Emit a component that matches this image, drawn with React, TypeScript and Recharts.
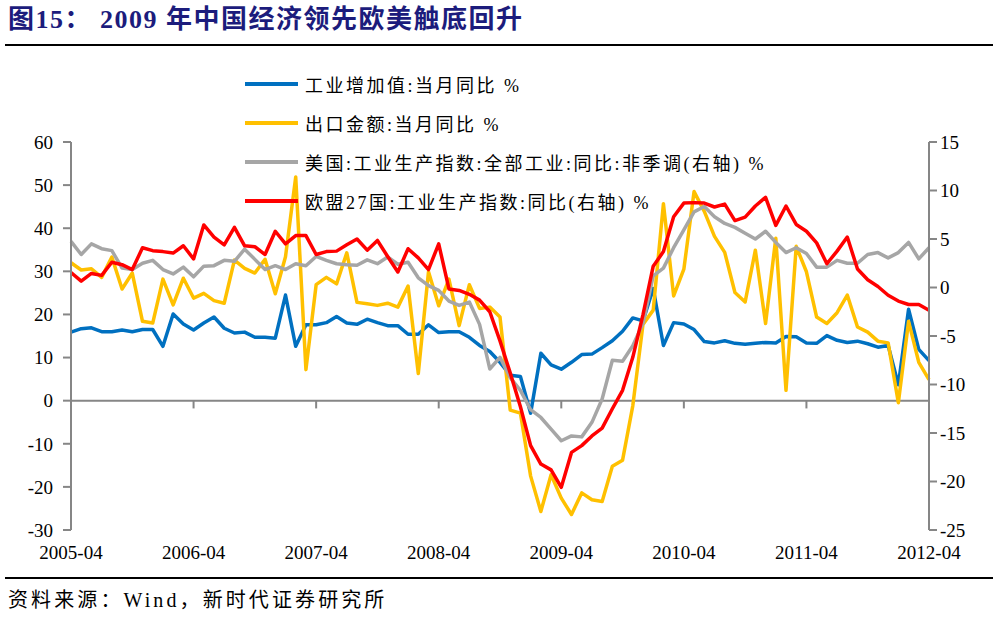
import React from 'react';
import { LineChart, Line, XAxis, YAxis, ReferenceLine, Legend } from 'recharts';

// Categories: monthly from 2005-04 to 2012-04
const months: string[] = [];
for (let y = 2005; y <= 2012; y++) {
  for (let m = 1; m <= 12; m++) {
    if ((y === 2005 && m < 4) || (y === 2012 && m > 4)) continue;
    months.push(`${y}-${m < 10 ? '0' + m : m}`);
  }
}

const yearTicks = ['2005-04', '2006-04', '2007-04', '2008-04', '2009-04', '2010-04', '2011-04', '2012-04'];
const innerYearTicks = ['2006-04', '2007-04', '2008-04', '2009-04', '2010-04', '2011-04'];
const leftTicks = [-30, -20, -10, 0, 10, 20, 30, 40, 50, 60];
const rightTicks = [-25, -20, -15, -10, -5, 0, 5, 10, 15];

// 工业增加值:当月同比 (left axis)
const chinaIP = [
  15.9, 16.7, 16.9, 16.0, 16.0, 16.4, 16.0, 16.5, 16.5, 12.6, 20.1, 17.8,
  16.4, 18.0, 19.4, 16.8, 15.7, 15.9, 14.7, 14.7, 14.5, 24.5, 12.6, 17.6,
  17.6, 18.1, 19.5, 18.0, 17.7, 18.9, 18.1, 17.4, 17.4, 15.4, 15.4, 17.6,
  15.8, 16.0, 16.0, 14.7, 12.8, 11.4, 8.9, 5.9, 5.6, -2.9, 11.0, 8.3,
  7.3, 8.9, 10.7, 10.8, 12.3, 13.9, 16.1, 19.2, 18.5, 26.0, 12.8, 18.1,
  17.8, 16.5, 13.7, 13.4, 13.9, 13.3, 13.1, 13.3, 13.5, 13.4, 14.9, 14.8,
  13.4, 13.3, 15.1, 14.0, 13.5, 13.8, 13.2, 12.4, 12.8, 3.7, 21.2, 11.9,
  9.3,
];

// 出口金额:当月同比 (left axis)
const chinaExports = [
  32.0, 30.3, 30.6, 28.6, 33.3, 25.9, 29.6, 18.4, 18.0, 28.2, 22.2, 28.4,
  23.8, 24.9, 23.2, 22.6, 32.6, 30.7, 29.6, 32.8, 24.8, 33.4, 51.9, 7.2,
  26.9, 28.6, 27.1, 34.3, 22.8, 22.5, 22.1, 22.6, 21.7, 26.6, 6.3, 29.9,
  22.0, 28.2, 17.4, 26.9, 21.4, 21.7, 19.4, -2.2, -2.9, -17.5, -25.7, -17.2,
  -22.6, -26.4, -21.4, -23.0, -23.4, -15.2, -13.8, -1.2, 17.7, 21.0, 45.7, 24.3,
  30.5, 48.5, 43.9, 38.1, 34.4, 25.1, 22.9, 34.9, 17.9, 37.7, 2.4, 35.8,
  29.9, 19.4, 17.9, 20.4, 24.5, 17.1, 15.9, 13.8, 13.4, -0.5, 18.4, 8.9,
  4.9,
];

// 美国:工业生产指数:全部工业:同比:非季调 (right axis)
const usIP = [
  4.75, 3.4, 4.5, 4.0, 3.8, 2.0, 1.85, 2.5, 2.8, 1.85, 1.4, 2.1,
  1.1, 2.2, 2.25, 2.8, 2.7, 3.95, 2.9, 1.85, 2.25, 1.85, 2.45, 2.25,
  3.2, 2.8, 2.45, 2.35, 2.3, 2.85, 2.45, 3.15, 2.4, 2.6, 1.0, 0.2,
  -0.3, -1.4, -1.85, -1.5, -3.8, -8.4, -7.2, -9.3, -10.6, -12.6, -13.4, -14.6,
  -15.8, -15.3, -15.4, -13.9, -11.5, -7.5, -7.6, -6.0, -3.7, 1.2, 2.0, 4.1,
  5.95, 7.8, 8.35, 7.3, 6.6, 6.2, 5.6, 5.0, 5.8, 4.65, 3.6, 4.1,
  3.5, 2.1, 2.1, 2.8, 2.5, 2.5, 3.4, 3.6, 3.05, 3.6, 4.65, 2.95,
  4.1,
];

// 欧盟27国:工业生产指数:同比 (right axis)
const euIP = [
  1.55, 0.65, 1.45, 1.25, 2.6, 2.35, 1.85, 4.1, 3.8, 3.7, 3.55, 4.3,
  2.95, 6.45, 5.2, 4.4, 6.2, 4.3, 4.2, 3.4, 5.8, 4.5, 5.35, 5.35,
  3.4, 3.7, 3.75, 4.4, 5.0, 3.85, 4.85, 3.2, 1.6, 4.0, 3.05, 1.85,
  4.5, -0.15, -0.3, -0.7, -1.3, -2.5, -5.5, -8.8, -12.3, -16.3, -18.2, -18.8,
  -20.6, -17.0, -16.3, -15.3, -14.5, -12.5, -10.6, -7.2, -2.8, 2.2, 3.7, 7.3,
  8.7, 8.75, 8.7, 8.3, 8.6, 6.9, 7.25, 8.4, 9.3, 6.4, 8.4, 6.5,
  5.8, 4.6, 2.45, 3.75, 5.2, 1.9, 0.8, 0.1, -0.8, -1.4, -1.75, -1.75,
  -2.35,
];

const seriesNames = [
  '工业增加值:当月同比 %',
  '出口金额:当月同比 %',
  '美国:工业生产指数:全部工业:同比:非季调(右轴) %',
  '欧盟27国:工业生产指数:同比(右轴) %',
];
const seriesColors = ['#0070C0', '#FFC000', '#A6A6A6', '#FF0000'];

const data = months.map((m, i) => ({
  month: m,
  ip: chinaIP[i],
  ex: chinaExports[i],
  us: usIP[i],
  eu: euIP[i],
}));

const FONT = "'Liberation Serif', 'Noto Sans CJK SC', serif";
const AXIS = '#868686';
const tickStyle = { fill: '#000', fontSize: 19, fontFamily: FONT };

const LegendContent = () => {
  return (
    <div style={{ fontFamily: FONT, fontSize: 18, color: '#000' }}>
      {seriesNames.map((name, idx) => (
        <div key={idx} style={{ display: 'flex', alignItems: 'center', height: 39, whiteSpace: 'nowrap' }}>
          <span style={{ display: 'inline-block', width: 53, height: 4, background: seriesColors[idx], marginRight: 7 }} />
          <span style={{ letterSpacing: 2.5 }}>{name}</span>
        </div>
      ))}
    </div>
  );
};

export default function App() {
  return (
    <div style={{ position: 'absolute', left: 0, top: 0, width: 993, height: 623, background: '#fff', overflow: 'hidden' }}>
      <div
        style={{
          position: 'absolute', left: 8, top: 3, fontSize: 26, fontWeight: 'bold', color: '#1C1C7C',
          fontFamily: FONT, letterSpacing: 1.5, lineHeight: '34px', whiteSpace: 'nowrap',
        }}
      >
        图15： 2009 年中国经济领先欧美触底回升
      </div>
      <div style={{ position: 'absolute', left: 5, top: 44, width: 988, height: 1.5, background: '#000' }} />
      <div style={{ position: 'absolute', left: 5, top: 577, width: 988, height: 1.5, background: '#000' }} />
      <div
        style={{
          position: 'absolute', left: 8, top: 586, fontSize: 20, color: '#000', fontFamily: FONT,
          letterSpacing: 3.1, lineHeight: '28px', whiteSpace: 'nowrap',
        }}
      >
        资料来源：Wind，新时代证券研究所
      </div>
      <div style={{ position: 'absolute', left: 0, top: 0 }}>
        <LineChart
          width={993}
          height={623}
          data={data}
          margin={{ top: 142, right: 0, bottom: 63, left: 0 }}
          style={{ fontFamily: FONT }}
        >
          <XAxis
            dataKey="month"
            ticks={yearTicks}
            interval={0}
            axisLine={false}
            tickLine={false}
            tickSize={0}
            tickMargin={16}
            height={30}
            tick={tickStyle}
          />
          <YAxis
            yAxisId="left"
            orientation="left"
            width={71}
            domain={[-30, 60]}
            ticks={leftTicks}
            interval={0}
            allowDataOverflow
            axisLine={{ stroke: AXIS, strokeWidth: 2 }}
            tickLine={{ stroke: AXIS, strokeWidth: 2 }}
            tickSize={8}
            tickMargin={10}
            tick={tickStyle}
          />
          <YAxis
            yAxisId="right"
            orientation="right"
            width={64}
            domain={[-25, 15]}
            ticks={rightTicks}
            interval={0}
            allowDataOverflow
            axisLine={{ stroke: AXIS, strokeWidth: 2 }}
            tickLine={{ stroke: AXIS, strokeWidth: 2 }}
            tickSize={8}
            tickMargin={3}
            tick={tickStyle}
          />
          <ReferenceLine yAxisId="left" y={0} stroke={AXIS} strokeWidth={2} />
          {innerYearTicks.map((t) => (
            <ReferenceLine
              key={t}
              yAxisId="left"
              segment={[{ x: t, y: 0 }, { x: t, y: -1.8 }]}
              stroke={AXIS}
              strokeWidth={2}
            />
          ))}
          <Legend
            layout="vertical"
            align="center"
            verticalAlign="middle"
            content={<LegendContent />}
            wrapperStyle={{ top: 64.5, left: 245, width: 620 }}
          />
          <Line yAxisId="left" type="linear" dataKey="ip" name={seriesNames[0]} stroke={seriesColors[0]} strokeWidth={3.5} dot={false} isAnimationActive={false} strokeLinejoin="round" />
          <Line yAxisId="left" type="linear" dataKey="ex" name={seriesNames[1]} stroke={seriesColors[1]} strokeWidth={3.5} dot={false} isAnimationActive={false} strokeLinejoin="round" />
          <Line yAxisId="right" type="linear" dataKey="us" name={seriesNames[2]} stroke={seriesColors[2]} strokeWidth={3.5} dot={false} isAnimationActive={false} strokeLinejoin="round" />
          <Line yAxisId="right" type="linear" dataKey="eu" name={seriesNames[3]} stroke={seriesColors[3]} strokeWidth={3.5} dot={false} isAnimationActive={false} strokeLinejoin="round" />
        </LineChart>
      </div>
    </div>
  );
}
